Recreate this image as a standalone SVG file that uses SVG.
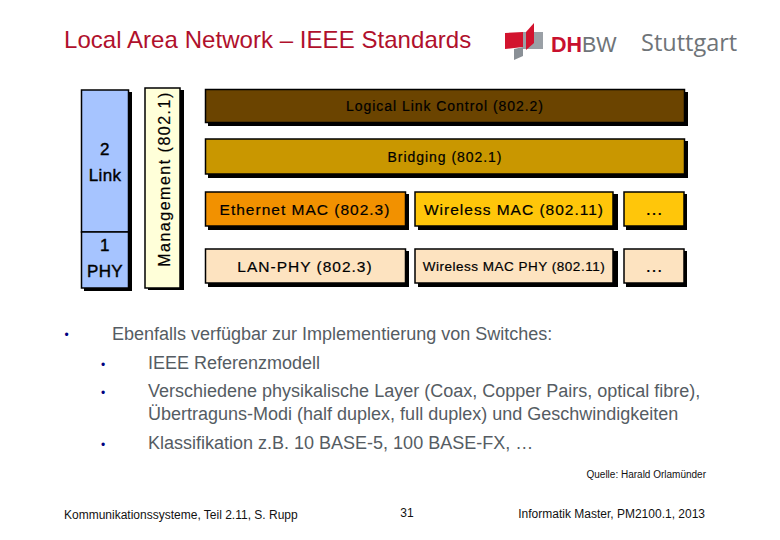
<svg xmlns="http://www.w3.org/2000/svg" width="780" height="540" viewBox="0 0 780 540">
<style>
text{font-family:"Liberation Sans",Arial,sans-serif;fill:#000}
.b{stroke:#000;stroke-width:1.5}
.s{fill:#000}
.l{text-anchor:middle;stroke:#000;stroke-width:.2}
.big{font-size:15.500px;letter-spacing:1px}
.mid{font-size:14px;letter-spacing:.95px}
.lay{font-size:17px;letter-spacing:.3px;stroke-width:.4}
.dots{font-size:18px}
.body{font-size:18px;fill:#555c63}
.bul{font-size:12px;fill:#000080}
.foot{font-size:12px;fill:#111}
</style>
<rect width="780" height="540" fill="#fff"/>
<text x="64" y="48" font-size="24" letter-spacing=".05" style="fill:#b0102c">Local Area Network – IEEE Standards</text>
<g id="logo">
<polygon points="505,33 523,32 523,47 505,49" fill="#d2132e"/>
<polygon points="523,32 543,32 543,49 523,49" fill="#9aa0a6"/>
<polygon points="514,49 523,47 523,56 514,60" fill="#8a9096"/>
<polygon points="526,32 534,23 534,43 526,50" fill="#d2132e"/>
<text x="551" y="52" font-size="21.500" font-weight="bold" style="fill:#c8102e">DH</text>
<text x="582" y="52" font-size="21.500" style="fill:#6f7478">BW</text>
<text x="641" y="51" font-size="23.500" style="fill:#6f7478;font-family:'Open Sans','Liberation Sans',sans-serif">Stuttgart</text>
</g>
<g id="link">
<rect x="84" y="92" width="48" height="199" class="s"/>
<rect x="81.500" y="90" width="47" height="142" fill="#a6c4ff" class="b"/>
<text x="105" y="155" class="l lay">2</text>
<text x="105" y="181" class="l lay">Link</text>
</g>
<g id="phy">
<rect x="81.500" y="232" width="47" height="56" fill="#a6c4ff" class="b"/>
<text x="105" y="251" class="l lay">1</text>
<text x="105" y="277" class="l lay">PHY</text>
</g>
<g id="management">
<rect x="148" y="90" width="36" height="200" class="s"/>
<rect x="145" y="88" width="35" height="200" fill="#ffffd9" class="b"/>
<text transform="translate(170 179) rotate(-90)" class="l" style="font-size:16px;letter-spacing:1.500px">Management (802.1)</text>
</g>
<g id="llc">
<rect x="208" y="92" width="480" height="34" class="s"/>
<rect x="205.500" y="89.500" width="479" height="33" fill="#6b4400" class="b"/>
<text x="445" y="111" class="l mid">Logical Link Control (802.2)</text>
</g>
<g id="bridging">
<rect x="208" y="141" width="480" height="37" class="s"/>
<rect x="205.500" y="139" width="479" height="35" fill="#c99700" class="b"/>
<text x="445" y="162" class="l mid">Bridging (802.1)</text>
</g>
<g id="ethernet-mac">
<rect x="208" y="194" width="201" height="36" class="s"/>
<rect x="205.500" y="192" width="200" height="34" fill="#f29100" class="b"/>
<text x="305" y="215" class="l big">Ethernet MAC (802.3)</text>
</g>
<g id="wireless-mac">
<rect x="418" y="194" width="200" height="36" class="s"/>
<rect x="415" y="192" width="198" height="34" fill="#ffc60a" class="b"/>
<text x="514" y="215" class="l big">Wireless MAC (802.11)</text>
</g>
<g id="mac-more">
<rect x="626" y="194" width="61" height="36" class="s"/>
<rect x="624" y="192" width="60" height="34" fill="#ffc60a" class="b"/>
<text x="654" y="215" class="l dots">…</text>
</g>
<g id="lan-phy">
<rect x="208" y="251" width="201" height="36" class="s"/>
<rect x="205.500" y="249" width="200" height="34" fill="#fde3c0" class="b"/>
<text x="305" y="272" class="l big">LAN-PHY (802.3)</text>
</g>
<g id="wireless-phy">
<rect x="418" y="251" width="200" height="36" class="s"/>
<rect x="415" y="249" width="198" height="34" fill="#fde3c0" class="b"/>
<text x="514" y="271" class="l" style="font-size:13.500px;letter-spacing:.5px">Wireless MAC PHY (802.11)</text>
</g>
<g id="phy-more">
<rect x="626" y="251" width="61" height="36" class="s"/>
<rect x="624" y="249" width="60" height="34" fill="#fde3c0" class="b"/>
<text x="654" y="272" class="l dots">…</text>
</g>
<text x="64.500" y="339" class="bul">•</text>
<text x="112" y="340" class="body">Ebenfalls verfügbar zur Implementierung von Switches:</text>
<text x="101" y="369" class="bul">•</text>
<text x="148" y="369" class="body">IEEE Referenzmodell</text>
<text x="101" y="397" class="bul">•</text>
<text x="148" y="397" class="body">Verschiedene physikalische Layer (Coax, Copper Pairs, optical fibre),</text>
<text x="148" y="420" class="body">Übertraguns-Modi (half duplex, full duplex) und Geschwindigkeiten</text>
<text x="101" y="449" class="bul">•</text>
<text x="148" y="449" class="body">Klassifikation z.B. 10 BASE-5, 100 BASE-FX, …</text>
<text x="706" y="478" font-size="10" text-anchor="end" style="fill:#111">Quelle: Harald Orlamünder</text>
<text x="64" y="519" class="foot">Kommunikationssysteme, Teil 2.11, S. Rupp</text>
<text x="407" y="517" class="foot" text-anchor="middle">31</text>
<text x="705" y="518" class="foot" text-anchor="end">Informatik Master, PM2100.1, 2013</text>
</svg>
